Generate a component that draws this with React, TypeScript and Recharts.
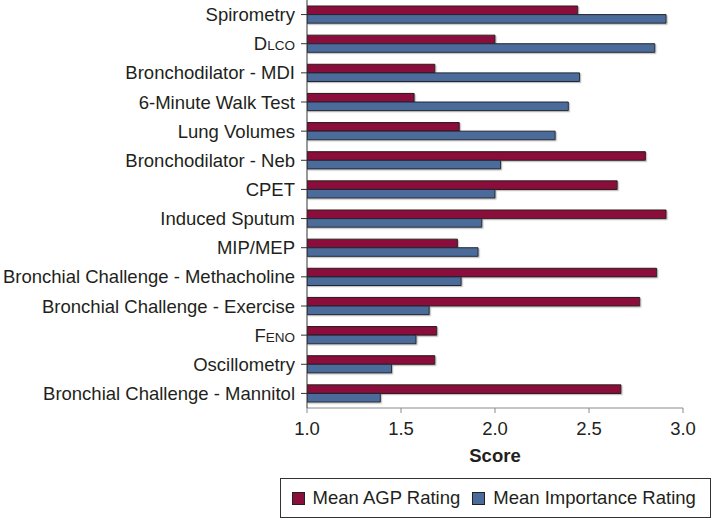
import React from 'react';
import { BarChart, Bar, XAxis, YAxis, Legend } from 'recharts';

const categories = [
  'Spirometry',
  'DLCO',
  'Bronchodilator - MDI',
  '6-Minute Walk Test',
  'Lung Volumes',
  'Bronchodilator - Neb',
  'CPET',
  'Induced Sputum',
  'MIP/MEP',
  'Bronchial Challenge - Methacholine',
  'Bronchial Challenge - Exercise',
  'FENO',
  'Oscillometry',
  'Bronchial Challenge - Mannitol',
];
const agpRating = [2.44, 2.0, 1.68, 1.57, 1.81, 2.8, 2.65, 2.91, 1.8, 2.86, 2.77, 1.69, 1.68, 2.67];
const importanceRating = [2.91, 2.85, 2.45, 2.39, 2.32, 2.03, 2.0, 1.93, 1.91, 1.82, 1.65, 1.58, 1.45, 1.39];
const xTicks = [1.0, 1.5, 2.0, 2.5, 3.0];
const seriesNames = ['Mean AGP Rating', 'Mean Importance Rating'];

const AGP_COLOR = '#8a0f3a';
const IMP_COLOR = '#4b6c9b';
const FONT = '"Liberation Sans", Arial, Helvetica, sans-serif';
const FS = 18.5;

const data = categories.map((c, i) => ({ name: c, agp: agpRating[i], imp: importanceRating[i] }));

const subscripted: Record<string, [string, string]> = {
  DLCO: ['D', 'LCO'],
  FENO: ['F', 'ENO'],
};

const YTick = (props: any) => {
  const { x, y, payload } = props;
  const v: string = payload.value;
  const sub = subscripted[v];
  return (
    <text x={x} y={y} dy="0.355em" textAnchor="end" fontSize={FS} fontFamily={FONT} fill="#231f20">
      {sub ? (
        <>
          <tspan>{sub[0]}</tspan>
          <tspan fontSize={13.5}>{sub[1]}</tspan>
        </>
      ) : (
        v
      )}
    </text>
  );
};

const LegendBox = () => (
  <div
    style={{
      boxSizing: 'border-box',
      width: 431,
      height: 40,
      border: '1.5px solid #333',
      background: '#fff',
      display: 'flex',
      alignItems: 'center',
      paddingLeft: 10.5,
      fontFamily: FONT,
      fontSize: FS,
      color: '#231f20',
    }}
  >
    {[AGP_COLOR, IMP_COLOR].map((c, i) => (
      <div key={i} style={{ display: 'flex', alignItems: 'center', marginRight: i === 0 ? 12 : 0 }}>
        <span
          style={{
            display: 'inline-block',
            width: 13,
            height: 13,
            background: c,
            border: '1px solid #222',
            boxSizing: 'border-box',
            marginRight: 8,
          }}
        />
        <span>{seriesNames[i]}</span>
      </div>
    ))}
  </div>
);

export default function App() {
  return (
    <div style={{ width: 711, height: 518, position: 'relative', background: '#fff' }}>
      <style>{`body{margin:0;background:#fff}`}</style>
      <BarChart
        width={711}
        height={518}
        data={data}
        layout="vertical"
        margin={{ top: 0, right: 28, bottom: 14, left: 0 }}
        barGap={0}
      >
        <defs>
          <filter id="barShadow" x="-5%" y="-20%" width="110%" height="160%">
            <feDropShadow dx="1.2" dy="1.2" stdDeviation="0.6" floodColor="#999" floodOpacity="0.6" />
          </filter>
        </defs>
        <XAxis
          type="number"
          domain={[1, 3]}
          ticks={xTicks}
          tickFormatter={(v: number) => v.toFixed(1)}
          allowDataOverflow
          height={56}
          tickSize={5}
          tickMargin={9}
          stroke="#8a8a8a"
          tick={{ fill: '#231f20', fontSize: FS, fontFamily: FONT }}
          label={{
            value: 'Score',
            position: 'insideBottom',
            offset: 2,
            fill: '#231f20',
            fontSize: FS,
            fontWeight: 'bold',
            fontFamily: FONT,
          }}
        />
        <YAxis
          type="category"
          dataKey="name"
          width={307}
          tickSize={6}
          tickMargin={6}
          stroke="#333"
          tick={<YTick />}
          interval={0}
        />
        <Legend
          verticalAlign="bottom"
          content={() => <LegendBox />}
          wrapperStyle={{ position: 'absolute', left: 280, top: 478, bottom: 'auto', width: 431, height: 40 }}
        />
        <Bar
          dataKey="agp"
          name={seriesNames[0]}
          fill={AGP_COLOR}
          stroke="#2a1a1a"
          strokeWidth={1}
          barSize={8.6}
          isAnimationActive={false}
          style={{ filter: 'url(#barShadow)' }}
        />
        <Bar
          dataKey="imp"
          name={seriesNames[1]}
          fill={IMP_COLOR}
          stroke="#1f2530"
          strokeWidth={1}
          barSize={8.6}
          isAnimationActive={false}
          style={{ filter: 'url(#barShadow)' }}
        />
      </BarChart>
    </div>
  );
}
